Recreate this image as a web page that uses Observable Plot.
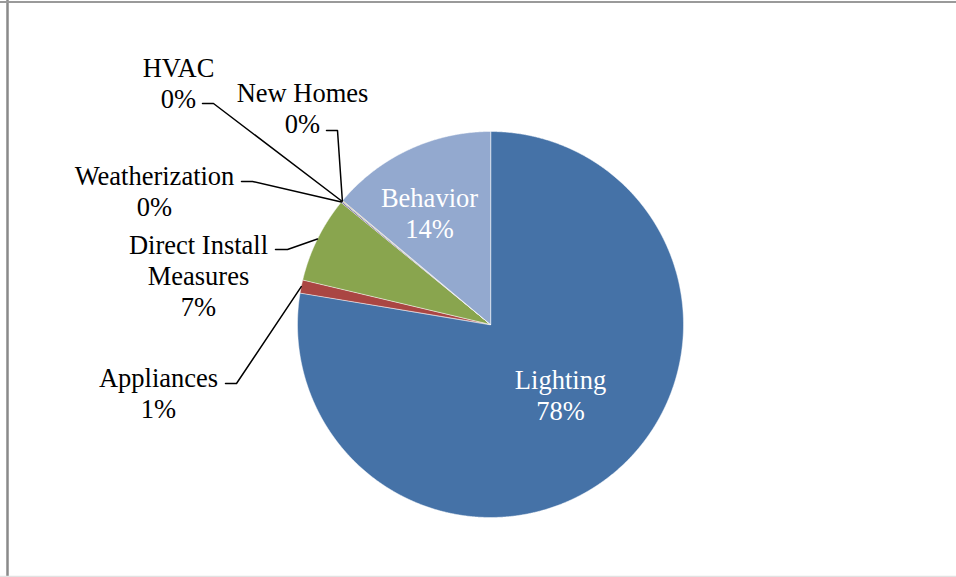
<!DOCTYPE html>
<html><head><meta charset="utf-8">
<script src="https://cdn.jsdelivr.net/npm/d3@7"></script>
<script src="https://cdn.jsdelivr.net/npm/@observablehq/plot@0.6"></script>
<style>html,body{margin:0;padding:0;background:#fff}</style>
</head><body><div id="chart"></div>
<script>
// ---- data ----
const categories = ["Lighting","Appliances","Direct Install Measures","Weatherization","HVAC","New Homes","Behavior"];
const labelNames = ["Lighting","Appliances","Direct Install\nMeasures","Weatherization","HVAC","New Homes","Behavior"];
const shares = [77.6, 1.1, 7.2, 0.1, 0.05, 0.05, 13.9];
const colors = ["#4572A7","#AA4643","#89A54E","#71588F","#4198AF","#DB843D","#93A9CF"];

// ---- layout ----
const W = 956, H = 577, cx = 490, cy = 324, R = 193, FS = 26.5;
// label centre x, first-line baseline y, inside?
const labelPos = [[560,385,true],[158,383,false],[198,250,false],[154,181,false],[178,73,false],[302,98,false],[429,203,true]];
// leader: horizontal start x, elbow x, y
const leaderPos = [null,[225,236,383],[275,287,249],[241,252,181],[202,213,103],[326,337,130],null];

const arcs = d3.pie().sort(null).startAngle(0).endAngle(2*Math.PI)(shares);
const slicePts = [];
arcs.forEach((a,i) => {
  const n = Math.max(2, Math.ceil((a.endAngle - a.startAngle) / 0.004));
  slicePts.push({cat: categories[i], x: cx, y: cy});
  for (let k = 0; k <= n; k++) {
    const t = a.startAngle + (a.endAngle - a.startAngle) * k / n;
    slicePts.push({cat: categories[i], x: cx + R*Math.sin(t), y: cy - R*Math.cos(t)});
  }
});

const labels = categories.map((c,i) => ({
  cat: c, x: labelPos[i][0], y: labelPos[i][1] - 0.71*FS, inside: labelPos[i][2],
  text: labelNames[i] + "\n" + Math.round(shares[i]) + "%"
}));

const leaderPts = [];
arcs.forEach((a,i) => {
  const L = leaderPos[i]; if (!L) return;
  const m = (a.startAngle + a.endAngle) / 2;
  leaderPts.push({cat: categories[i], x: L[0], y: L[2]});
  leaderPts.push({cat: categories[i], x: L[1], y: L[2]});
  leaderPts.push({cat: categories[i], x: cx + R*Math.sin(m), y: cy - R*Math.cos(m)});
});

const font = "'Liberation Serif','Times New Roman',serif";
const chart = Plot.plot({
  width: W, height: H, margin: 0,
  x: {domain: [0, W], range: [0, W], axis: null},
  y: {domain: [0, H], range: [0, H], axis: null},
  color: {domain: categories, range: colors},
  style: {fontFamily: font, background: "#fff"},
  marks: [
    Plot.line(slicePts, {x: "x", y: "y", z: "cat", fill: "cat", stroke: "white", strokeWidth: 0.5, curve: "linear-closed"}),
    Plot.line(leaderPts, {x: "x", y: "y", z: "cat", stroke: "black", strokeWidth: 1.5}),
    Plot.text(labels.filter(d => !d.inside), {x: "x", y: "y", text: "text", lineAnchor: "top", lineHeight: 1.17, fontSize: FS, fontFamily: font, fill: "black"}),
    Plot.text(labels.filter(d => d.inside), {x: "x", y: "y", text: "text", lineAnchor: "top", lineHeight: 1.17, fontSize: FS, fontFamily: font, fill: "white"}),
    Plot.ruleX([7], {stroke: "#8a8a8a", strokeWidth: 2.5}),
    Plot.ruleY([1.5], {stroke: "#9a9a9a", strokeWidth: 2}),
    Plot.ruleY([576], {stroke: "#e2e2e2", strokeWidth: 1.5})
  ]
});
document.getElementById("chart").appendChild(chart);
</script>
</body></html>
